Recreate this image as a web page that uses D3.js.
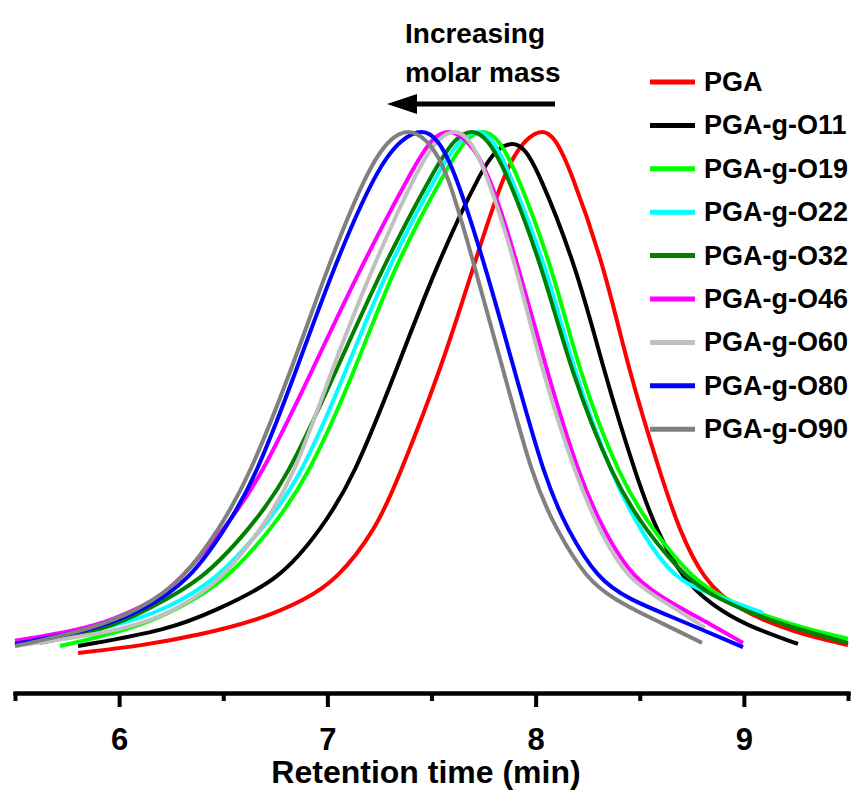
<!DOCTYPE html>
<html>
<head>
<meta charset="utf-8">
<script src="https://cdn.jsdelivr.net/npm/d3@7"></script>
<style>
body { margin: 0; background: #fff; }
text { font-family: "Liberation Sans", Arial, sans-serif; font-weight: bold; }
</style>
</head>
<body>
<svg></svg>
<script>
const width = 859;
const height = 791;

// подписи оси x
const majorTicks = [6, 7, 8, 9];
const minorTicks = [5.5, 6.5, 7.5, 8.5, 9.5];

const seriesNames = ["PGA", "PGA-g-O11", "PGA-g-O19", "PGA-g-O22", "PGA-g-O32",
  "PGA-g-O46", "PGA-g-O60", "PGA-g-O80", "PGA-g-O90"];

// [время удерживания, мин ; нормированный сигнал]
const pga = [[5.803,0.004],[6.100,0.017],[6.388,0.038],[6.676,0.067],[6.893,0.105],[7.046,0.143],
  [7.233,0.239],[7.339,0.334],[7.546,0.544],[7.699,0.735],[7.853,0.926],[7.954,0.983],[8.035,1.0],
  [8.093,0.983],[8.165,0.926],[8.333,0.735],[8.444,0.544],[8.607,0.334],[8.689,0.239],[8.804,0.143],
  [8.967,0.086],[9.245,0.042],[9.5,0.019]];
const o11 = [[5.803,0.017],[6.244,0.048],[6.470,0.086],[6.773,0.143],[6.969,0.239],[7.123,0.334],
  [7.334,0.544],[7.517,0.735],[7.743,0.926],[7.819,0.964],[7.891,0.975],[7.944,0.964],[8.007,0.926],
  [8.199,0.735],[8.324,0.544],[8.487,0.334],[8.578,0.239],[8.708,0.143],[8.847,0.095],[9.005,0.057],
  [9.260,0.021]];
const o19 = [[5.716,0.017],[6.052,0.048],[6.278,0.086],[6.518,0.143],[6.729,0.239],[6.902,0.334],
  [7.137,0.544],[7.315,0.735],[7.574,0.926],[7.666,0.983],[7.747,1.0],[7.819,0.983],[7.901,0.926],
  [8.083,0.735],[8.203,0.544],[8.405,0.334],[8.559,0.239],[8.756,0.143],[8.914,0.105],[9.102,0.074],
  [9.294,0.050],[9.5,0.031]];
const o22 = [[5.668,0.034],[6.004,0.057],[6.220,0.086],[6.470,0.143],[6.686,0.239],[6.869,0.334],
  [7.094,0.544],[7.286,0.735],[7.541,0.926],[7.642,0.983],[7.723,1.0],[7.791,0.983],[7.867,0.926],
  [8.055,0.735],[8.179,0.544],[8.372,0.334],[8.501,0.239],[8.660,0.143],[8.876,0.111],[9.092,0.080]];
const o32 = [[5.620,0.023],[5.932,0.048],[6.134,0.086],[6.403,0.143],[6.624,0.239],[6.806,0.334],
  [7.046,0.544],[7.262,0.735],[7.517,0.926],[7.613,0.983],[7.694,1.0],[7.766,0.983],[7.853,0.926],
  [8.035,0.735],[8.165,0.544],[8.372,0.334],[8.525,0.239],[8.727,0.143],[8.885,0.105],[9.077,0.073],
  [9.269,0.048],[9.5,0.023]];
const o46 = [[5.5,0.027],[5.812,0.048],[5.971,0.067],[6.182,0.105],[6.292,0.143],[6.504,0.239],
  [6.676,0.334],[6.931,0.544],[7.157,0.735],[7.411,0.926],[7.502,0.983],[7.579,1.0],[7.666,0.983],
  [7.771,0.926],[7.920,0.735],[8.050,0.544],[8.213,0.334],[8.324,0.239],[8.468,0.143],[8.669,0.095],
  [8.847,0.057],[8.996,0.023]];
const o60 = [[5.5,0.017],[6.052,0.048],[6.278,0.086],[6.494,0.143],[6.681,0.239],[6.835,0.334],
  [7.022,0.544],[7.214,0.735],[7.435,0.926],[7.531,0.983],[7.613,1.0],[7.680,0.983],[7.757,0.926],
  [7.911,0.735],[8.026,0.544],[8.199,0.334],[8.304,0.239],[8.439,0.143],[8.645,0.095],[8.813,0.052]];
const o80 = [[5.5,0.021],[5.884,0.048],[6.124,0.086],[6.340,0.143],[6.509,0.239],[6.652,0.334],
  [6.854,0.544],[7.027,0.735],[7.238,0.926],[7.358,0.983],[7.459,1.0],[7.526,0.983],[7.608,0.926],
  [7.762,0.735],[7.896,0.544],[8.045,0.334],[8.151,0.239],[8.300,0.143],[8.453,0.105],[8.645,0.074],
  [8.823,0.044],[8.996,0.015]];
const o90 = [[5.5,0.017],[5.860,0.048],[6.100,0.086],[6.307,0.143],[6.480,0.239],[6.619,0.334],
  [6.830,0.544],[6.998,0.735],[7.195,0.926],[7.301,0.983],[7.387,1.0],[7.474,0.983],[7.574,0.926],
  [7.709,0.735],[7.843,0.544],[7.987,0.334],[8.098,0.239],[8.247,0.143],[8.381,0.105],[8.549,0.071],
  [8.693,0.044],[8.799,0.023]];

const seriesData = [pga, o11, o19, o22, o32, o46, o60, o80, o90];
const colors = ["#ff0000", "#000000", "#00ff00", "#00ffff", "#008000",
  "#ff00ff", "#c0c0c0", "#0000ff", "#808080"];

let svg = d3.select("svg")
  .attr("width", width)
  .attr("height", height);

const x = d3.scaleLinear().domain([5.5, 9.5]).range([15, 848]);
const y = d3.scaleLinear().domain([0, 1]).range([655, 129]);

const line = d3.line()
  .x(d => x(d[0]))
  .y(d => y(d[1]))
  .curve(d3.curveBasis);

// кривые
svg.append("g").selectAll("path")
  .data(seriesData)
  .join("path")
  .attr("d", d => line(d))
  .attr("fill", "none")
  .attr("stroke", (d, i) => colors[i])
  .attr("stroke-width", 4)
  .attr("stroke-linejoin", "round");

// ось x: малые и большие деления
let minorAxis = svg.append("g")
  .attr("transform", "translate(0,693)")
  .call(d3.axisBottom(x).tickValues(minorTicks).tickSize(8).tickSizeOuter(0).tickFormat(""));
let majorAxis = svg.append("g")
  .attr("transform", "translate(0,693)")
  .call(d3.axisBottom(x).tickValues(majorTicks).tickSize(14).tickSizeOuter(0).tickFormat(d3.format("d")));
[minorAxis, majorAxis].forEach(a => {
  a.select(".domain").attr("stroke-width", 4).attr("stroke-linecap", "square");
  a.selectAll(".tick line").attr("stroke-width", 4);
});
majorAxis.selectAll(".tick text")
  .attr("y", 35)
  .style("font-size", "31px")
  .style("font-family", "'Liberation Sans', Arial, sans-serif")
  .style("font-weight", "bold")
  .attr("fill", "#000");

svg.append("text")
  .attr("x", 426)
  .attr("y", 783)
  .attr("text-anchor", "middle")
  .style("font-size", "32px")
  .text("Retention time (min)");

// подпись и стрелка
svg.append("text").attr("x", 405).attr("y", 43).style("font-size", "28px").text("Increasing");
svg.append("text").attr("x", 405).attr("y", 82).style("font-size", "28px").text("molar mass");
svg.append("line")
  .attr("x1", 555).attr("y1", 104)
  .attr("x2", 410).attr("y2", 104)
  .attr("stroke", "#000")
  .attr("stroke-width", 5);
svg.append("path")
  .attr("d", "M387,104 L417,94 L417,114 Z")
  .attr("fill", "#000");

// легенда
let legend = svg.append("g");
seriesNames.forEach((name, i) => {
  let row = legend.append("g").attr("transform", `translate(0, ${82 + i * 43.4})`);
  row.append("line")
    .attr("x1", 650).attr("x2", 695)
    .attr("y1", 0).attr("y2", 0)
    .attr("stroke", colors[i])
    .attr("stroke-width", 5);
  row.append("text")
    .attr("x", 704)
    .attr("y", 9)
    .style("font-size", "27px")
    .text(name);
});
</script>
</body>
</html>
